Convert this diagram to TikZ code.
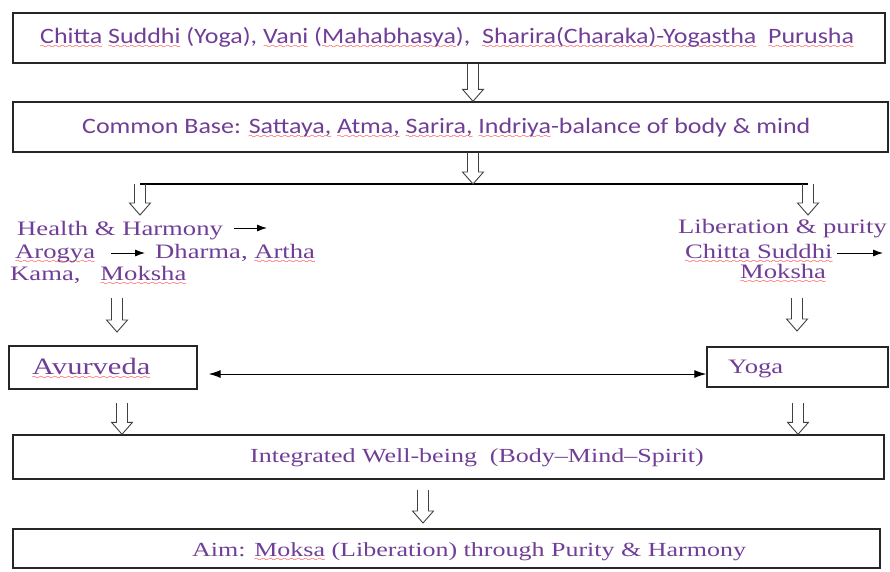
\documentclass[tikz,border=0pt]{standalone}
\usepackage{fontspec}
\setmainfont{Liberation Serif}[FakeStretch=1.3]
\newfontfamily\calfont{Carlito}[FakeStretch=1.18]
\usetikzlibrary{arrows.meta,calc}
\definecolor{txtpurple}{RGB}{112,62,150}
% red / green spell-check waves
\font\wavefont=lasy6 at 8pt
\newcommand\sq[2][red]{\leavevmode\setbox0\hbox{#2}\rlap{\raisebox{-5pt}[0pt][0pt]{\color{#1}\hbox to\wd0{\xleaders\hbox{\wavefont\char58}\hfil}}}\box0\relax}
\begin{document}
\begin{tikzpicture}[x=1pt,y=-1pt,
    box/.style={draw=black!85, line width=1.4pt, inner sep=0pt},
    cal/.style={font=\calfont\fontsize{22}{26}\selectfont, text=txtpurple, inner sep=0pt, anchor=base west},
    ser/.style={font=\fontsize{20.5}{25}\selectfont, text=txtpurple, inner sep=0pt, anchor=base west},
    hollow/.style={draw=black!75, line width=0.9pt, to path={let \p1=(\tikztostart), \p2=(\tikztotarget) in
        (\x1-5.5pt,\y1) -- (\x1-5.5pt,\y2+12pt) -- (\x1-10.5pt,\y2+12pt) -- (\x1,\y2)
        -- (\x1+10.5pt,\y2+12pt) -- (\x1+5.5pt,\y2+12pt) -- (\x1+5.5pt,\y1)}},
    tip/.style={-{Latex[length=10pt,width=7pt]}, line width=0.9pt},
  ]
  \useasboundingbox (0,0) rectangle (890,571);

  % boxes
  \node[box, minimum width=872pt, minimum height=50pt] (b1) at (449,38) {};
  \node[box, minimum width=875pt, minimum height=50pt] (b2) at (450.5,127) {};
  \node[box, minimum width=188pt, minimum height=43pt] (ayu) at (103,367.5) {};
  \node[box, minimum width=181pt, minimum height=40pt] (yoga) at (797.5,367) {};
  \node[box, minimum width=871pt, minimum height=44pt] (integ) at (448.5,457) {};
  \node[box, minimum width=867pt, minimum height=39pt] (aim) at (446.5,548.5) {};

  % texts
  \node[cal] (t1) at (40,43) {\sq{Chitta} \sq{Suddhi} (Yoga), \sq{Vani} (\sq{Mahabhasya}),\ \ \sq{Sharira(Charaka)-Yogastha}\ \ \sq{Purusha}};
  \node[cal] (t2) at (82,133) {Common Base: \sq{Sattaya,} \sq{Atma,} \sq{Sarira,} \sq{Indriya}-balance of body \& mind};

  \node[ser] (hh) at (17,235) {Health \& Harmony};
  \node[ser] (aro) at (15,258) {\sq{Arogya}};
  \node[ser] (dha) at (155,258) {Dharma,\sq[green!50!black]{\ }\sq{Artha}};
  \node[ser] (kam) at (10,280) {Kama,\hspace{20pt}\sq{Moksha}};

  \node[ser, anchor=base east] (lib) at (887,233) {Liberation \& purity};
  \node[ser] (cs) at (685,258) {\sq{Chitta Suddhi}};
  \node[ser] (mok) at (740,278) {\sq{Moksha}};

  \node[ser, font=\fontsize{23.5}{27}\selectfont] (ayut) at (32,374) {\sq{Avurveda}};
  \node[ser] (yogat) at (728,373) {Yoga};
  \node[ser, font=\fontsize{20}{24}\selectfont] (integt) at (250,462) {Integrated Well-being\ \ (Body–Mind–Spirit)};
  \node[ser, font=\fontsize{20}{24}\selectfont] (aimt) at (192,556) {Aim: \sq{Moksa} (Liberation) through Purity \& Harmony};

  % split line and free ends
  \coordinate (mid) at (473,0);
  \coordinate (sl) at (140,184);
  \coordinate (sr) at (808,184);
  \coordinate (hhtip) at (140,215);
  \coordinate (libtip) at (808,215);
  \coordinate (l1) at (117,298);
  \coordinate (l1tip) at (117,332);
  \coordinate (r1) at (797,298);
  \coordinate (r1tip) at (797,331);
  \coordinate (l2) at (122,403);
  \coordinate (r2) at (798,403);
  \coordinate (m2) at (423,490);
  \coordinate (m2tip) at (423,523);
  \coordinate (hhend) at (267,228);
  \coordinate (csend) at (883,253);

  \draw[line width=1.1pt] (sl) -- (sr);

  \draw[hollow] (b1.south -| mid) to (b2.north -| mid);
  \draw[hollow] (b2.south -| mid) to (mid |- sl);
  \draw[hollow] (sl) to (hhtip);
  \draw[hollow] (sr) to (libtip);
  \draw[hollow] (l1) to (l1tip);
  \draw[hollow] (r1) to (r1tip);
  \draw[hollow] (l2) to (l2 |- integ.north);
  \draw[hollow] (r2) to (r2 |- integ.north);
  \draw[hollow] (m2) to (m2tip);

  \draw[tip] ([xshift=11pt]hh.base east |- hhend) -- (hhend);
  \draw[tip] ([xshift=16pt,yshift=5pt]aro.base east) -- ([xshift=-10pt,yshift=5pt]dha.base west);
  \draw[tip] ([xshift=4pt]cs.base east |- csend) -- (csend);

  \draw[{Latex[length=12pt,width=8pt]}-{Latex[length=12pt,width=8pt]}, line width=1pt]
    ([xshift=11pt,yshift=-6.5pt]ayu.east) -- ([yshift=-6.5pt]ayu.east -| yoga.west);
\end{tikzpicture}
\end{document}
